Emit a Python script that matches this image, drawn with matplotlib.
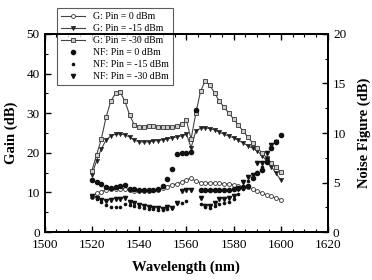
import numpy as np
import matplotlib
matplotlib.use("Agg")
import matplotlib.pyplot as plt
from matplotlib.ticker import MultipleLocator

nan = np.nan

# wavelength grid (nm)
wl = [1520, 1522, 1524, 1526, 1528, 1530, 1532, 1534, 1536, 1538,
      1540, 1542, 1544, 1546, 1548, 1550, 1552, 1554, 1556, 1558,
      1560, 1562, 1564, 1566, 1568, 1570, 1572, 1574, 1576, 1578,
      1580, 1582, 1584, 1586, 1588, 1590, 1592, 1594, 1596, 1598, 1600]

# gain (dB)
g_0 = [8.9, 9.8, 10.2, 10.7, 10.9, 11.0, 11.0, 10.9, 10.6, 10.4,
       10.3, 10.3, 10.4, 10.5, 10.7, 11.2, 11.5, 11.9, 12.2, 12.6,
       13.2, 13.6, 12.8, 12.5, 12.5, 12.4, 12.4, 12.3, 12.2, 12.1,
       11.9, 11.6, 11.4, 11.3, 10.8, 10.3, 9.9, 9.4, 9.0, 8.6, 8.2]
g_m15 = [14.5, 18.0, 21.0, 23.2, 24.3, 24.7, 24.8, 24.5, 24.0, 23.2,
         22.8, 22.7, 22.8, 23.0, 23.1, 23.3, 23.5, 23.8, 24.0, 24.3,
         24.8, 21.3, 25.5, 26.2, 26.3, 26.1, 25.8, 25.2, 24.7, 24.2,
         23.8, 23.2, 22.5, 21.8, 21.2, 20.5, 19.3, 18.0, 16.5, 14.8, 13.1]
g_m30 = [15.5, 19.5, 23.5, 29.0, 33.0, 35.0, 35.3, 33.0, 29.5, 27.0,
         26.5, 26.5, 26.8, 26.8, 26.6, 26.5, 26.5, 26.6, 26.7, 27.2,
         28.2, 23.5, 30.0, 35.5, 38.2, 37.0, 35.0, 33.0, 31.5, 30.0,
         28.5, 27.0, 25.5, 24.0, 22.5, 21.2, 20.0, 18.8, 17.5, 16.3, 15.2]

# noise figure (dB)
nf_0 = [5.3, 5.1, 4.9, 4.6, 4.5, 4.6, 4.7, 4.8, 4.4, 4.3,
        4.2, 4.2, 4.2, 4.2, 4.3, 4.7, 5.4, 6.4, 7.9, 8.0,
        8.0, 8.1, 12.3, 4.2, 4.2, 4.2, 4.2, 4.2, 4.2, 4.2,
        4.3, 4.5, 4.6, 4.7, 5.5, 6.0, 6.3, 7.1, 8.5, 9.1, 9.8]
nf_m15 = [3.5, 3.3, 3.0, 2.7, 2.5, 2.5, 2.5, 2.8, 2.7, 2.6,
          2.5, 2.4, 2.3, 2.3, 2.2, 2.2, 2.3, 2.4, 2.9, 2.9,
          3.1, nan, nan, 2.8, 2.5, 2.4, 2.6, 2.8, 2.9, 3.0,
          3.3, 3.8, 4.4, 5.2, 5.8, 6.1, 6.6, 7.5, 8.6, 9.2, nan]
nf_m30 = [3.6, 3.4, 3.2, 3.1, 3.2, 3.3, 3.3, 3.4, 3.0, 2.9,
          2.7, 2.6, 2.5, 2.4, 2.4, 2.3, 2.5, 2.4, 2.9, 4.1,
          4.2, 4.2, nan, 3.4, 2.6, 2.6, 2.9, 3.3, 3.3, 3.4,
          3.6, 4.4, 5.1, 5.6, 5.8, 7.0, 7.0, 8.0, 8.8, 9.1, nan]

plt.rcParams['font.family'] = ['Liberation Serif', 'DejaVu Serif']
plt.rcParams['font.size'] = 9.5

fig = plt.figure(figsize=(3.72, 2.8), dpi=100)
ax1 = fig.add_axes([0.120, 0.171, 0.762, 0.708])
ax2 = ax1.twinx()

lc = '#444444'
h1, = ax1.plot(wl, g_0, '-o', color=lc, lw=0.8, ms=2.8, mfc='white', mec='#333333', mew=0.6,
               label='G: Pin = 0 dBm')
h2, = ax1.plot(wl, g_m15, '-v', color=lc, lw=0.8, ms=3.2, mfc='#222222', mec='#222222', mew=0.4,
               label='G: Pin = -15 dBm')
h3, = ax1.plot(wl, g_m30, '-s', color=lc, lw=0.8, ms=2.6, mfc='#cccccc', mec='#333333', mew=0.6,
               label='G: Pin = -30 dBm')
h4, = ax2.plot(wl, nf_0, 'o', ls='none', ms=3.0, color='#111111', label='NF: Pin = 0 dBm')
h5, = ax2.plot(wl, nf_m15, 'o', ls='none', ms=1.6, color='#111111', label='NF: Pin = -15 dBm')
h6, = ax2.plot(wl, nf_m30, 'v', ls='none', ms=3.0, color='#111111', label='NF: Pin = -30 dBm')

ax1.set_xlim(1500, 1620)
ax1.set_ylim(0, 50)
ax2.set_ylim(0, 20)
ax1.xaxis.set_major_locator(MultipleLocator(20))
ax1.xaxis.set_minor_locator(MultipleLocator(5))
ax1.yaxis.set_major_locator(MultipleLocator(10))
ax1.yaxis.set_minor_locator(MultipleLocator(5))
ax2.yaxis.set_major_locator(MultipleLocator(5))
ax2.yaxis.set_minor_locator(MultipleLocator(2.5))

ax1.tick_params(axis='x', which='both', direction='in', top=True, labelsize=9.5, pad=5)
ax1.tick_params(axis='y', which='both', direction='in', right=False, labelsize=9.5)
ax2.tick_params(axis='y', which='both', direction='in', labelsize=9.5)
for a in (ax1, ax2):
    a.tick_params(which='major', length=4, width=1)
    a.tick_params(which='minor', length=2.5, width=0.8)
    for s in a.spines.values():
        s.set_linewidth(1.4)

ax1.set_xlabel('Wavelength (nm)', fontweight='bold', fontsize=10.5, labelpad=7)
ax1.set_ylabel('Gain (dB)', fontweight='bold', fontsize=10.5, labelpad=6)
ax2.set_ylabel('Noise Figure (dB)', fontweight='bold', fontsize=10.5, labelpad=8)

leg = ax1.legend(handles=[h1, h2, h3, h4, h5, h6], loc='upper left',
                 bbox_to_anchor=(0.025, 1.155), fontsize=7, frameon=True,
                 fancybox=False, edgecolor='#333333', borderpad=0.45,
                 labelspacing=0.3, handlelength=2.5, handletextpad=0.8)
leg.get_frame().set_linewidth(0.8)
leg.set_zorder(5)

fig.savefig('out.png', dpi=100)
